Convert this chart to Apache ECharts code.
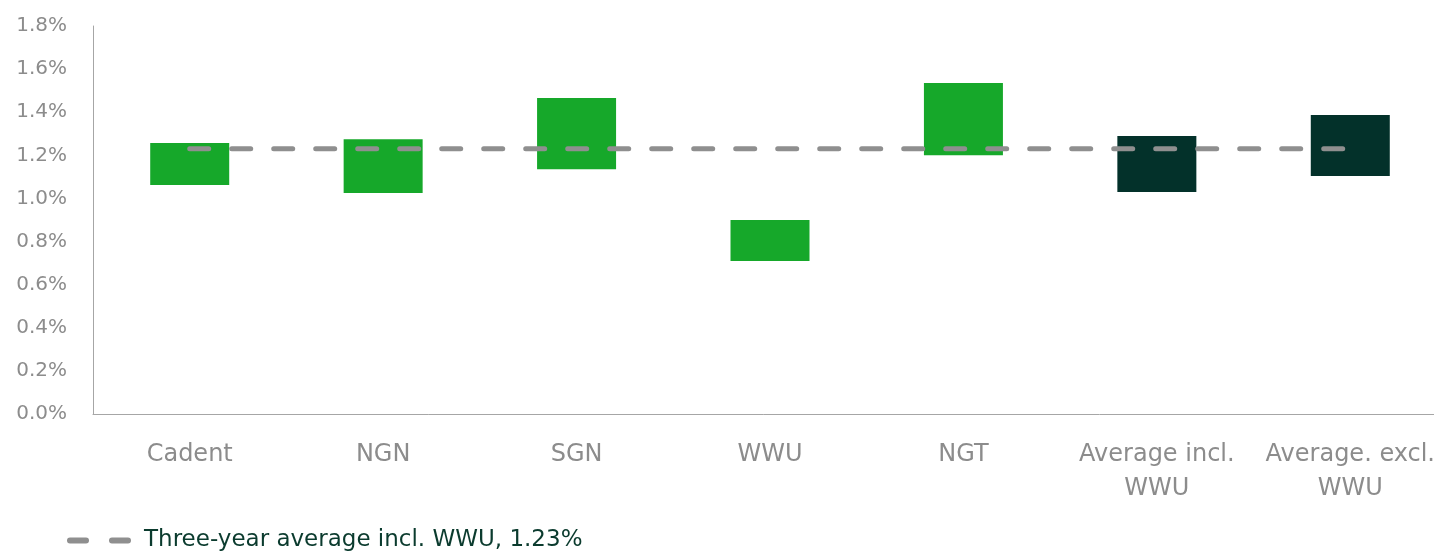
<!DOCTYPE html>
<html>
<head>
<meta charset="utf-8">
<script src="https://cdn.jsdelivr.net/npm/echarts@6/dist/echarts.min.js"></script>
<style>
  html, body { margin: 0; padding: 0; background: #fff; }
  #chart { width: 1434px; height: 551px; }
</style>
</head>
<body>
<div id="chart"></div>
<script>
// categories and floating bar ranges (low / high, in %)
var categories = ['Cadent', 'NGN', 'SGN', 'WWU', 'NGT', 'Average incl.\nWWU', 'Average. excl.\nWWU'];
var lowVals  = [1.062, 1.025, 1.136, 0.71, 1.20, 1.03, 1.104];
var highVals = [1.257, 1.275, 1.466, 0.90, 1.535, 1.29, 1.387];
var avgVal = 1.23;
var avgName = 'Three-year average incl. WWU, 1.23%';

var barColors = ['#16a82a', '#16a82a', '#16a82a', '#16a82a', '#16a82a', '#03312a', '#03312a'];

var rangeData = [];
for (var i = 0; i < categories.length; i++) {
  rangeData.push({
    value: +(highVals[i] - lowVals[i]).toFixed(3),
    itemStyle: { color: barColors[i] }
  });
}
var avgLine = categories.map(function () { return avgVal; });

var chart = echarts.init(document.getElementById('chart'));
var font = '"DejaVu Sans", sans-serif';

// two rounded dashes for the legend icon
var dashIcon = 'path://M3,0 H19 A3,3 0 0 1 19,6 H3 A3,3 0 0 1 3,0 Z M45,0 H61 A3,3 0 0 1 61,6 H45 A3,3 0 0 1 45,0 Z';

var option = {
  animation: false,
  grid: { left: 93, width: 1354, top: 26, bottom: 137, containLabel: false, outerBoundsMode: 'none' },
  legend: {
    data: [{ name: avgName, icon: dashIcon, itemStyle: { color: '#8f8f8f' } }],
    left: 62,
    bottom: -6,
    itemWidth: 64,
    itemHeight: 6,
    itemGap: 14,
    textStyle: { color: '#0b3b2e', fontSize: 23, fontFamily: font, padding: [0, 0, 0, 8] }
  },
  xAxis: {
    type: 'category',
    data: categories,
    axisLine: { show: true, lineStyle: { color: '#a6a6a6', width: 1 } },
    axisTick: { show: false },
    axisLabel: { color: '#8c8c8c', fontSize: 24, fontFamily: font, margin: 24, lineHeight: 34, interval: 0 }
  },
  yAxis: {
    type: 'value',
    min: 0,
    max: 1.8,
    interval: 0.2,
    axisLine: { show: true, lineStyle: { color: '#a6a6a6', width: 1 } },
    axisTick: { show: false },
    splitLine: { show: false },
    axisLabel: {
      color: '#8c8c8c', fontSize: 20, fontFamily: font, margin: 26,
      formatter: function (v) { return v.toFixed(1) + '%'; }
    }
  },
  series: [
    {
      name: 'base',
      type: 'bar',
      stack: 'range',
      barWidth: 79,
      itemStyle: { color: 'transparent' },
      data: lowVals,
      silent: true
    },
    {
      name: 'range',
      type: 'bar',
      stack: 'range',
      barWidth: 79,
      data: rangeData
    },
    {
      name: avgName,
      type: 'line',
      data: avgLine,
      symbol: 'none',
      z: 5,
      itemStyle: { color: '#8f8f8f' },
      lineStyle: { color: '#8f8f8f', width: 5, type: [19, 23], cap: 'round' }
    }
  ]
};
chart.setOption(option);
</script>
</body>
</html>
